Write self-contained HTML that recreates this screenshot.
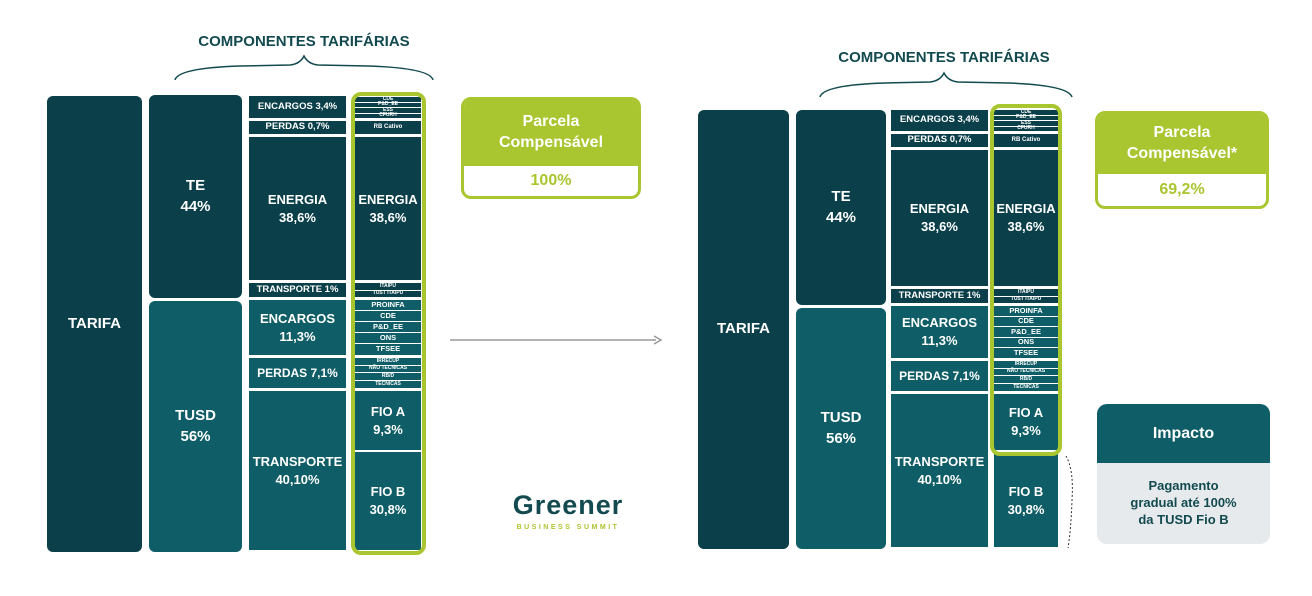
<!DOCTYPE html>
<html><head><meta charset="utf-8"><style>
body{margin:0;width:1312px;height:596px;background:#fff;position:relative;overflow:hidden;font-family:"Liberation Sans",Arial,sans-serif;font-weight:bold;color:#fff}
.b{position:absolute;display:flex;align-items:center;justify-content:center;text-align:center;box-sizing:border-box;line-height:1.35}
.d{background:#0b404a}.t{background:#0f5d66}
.r{border-radius:6px}
.s{font-size:5px;line-height:1}
.g{position:absolute;border:4px solid #a9c52f;border-radius:10px;box-sizing:border-box}
.h{position:absolute;color:#124a4f;font-size:15px;text-align:center}
</style></head><body>

<div class="h" style="left:164px;top:33px;width:280px">COMPONENTES TARIFÁRIAS</div>
<svg style="position:absolute;left:0;top:0" width="1312" height="596">
<path d="M175 80 Q178 68 240 66 L290 65 Q300 64 304 56 Q308 64 318 65 L368 66 Q430 68 433 80" fill="none" stroke="#124a4f" stroke-width="1.5"/>
<path d="M820 97 Q823 85 885 83 L930 82 Q940 81 944 73 Q948 81 958 82 L1008 83 Q1068 85 1072 97" fill="none" stroke="#124a4f" stroke-width="1.5"/>
<line x1="450" y1="340" x2="656" y2="340" stroke="#999" stroke-width="1.5"/>
<path d="M654 336 L661 340 L654 344" fill="none" stroke="#999" stroke-width="1.5"/>
<path d="M1066 456 Q1074 470 1072 500 Q1071 530 1068 548" fill="none" stroke="#333" stroke-width="1" stroke-dasharray="2,2"/>
</svg>
<div class="h" style="left:804px;top:49px;width:280px">COMPONENTES TARIFÁRIAS</div>

<!-- LEFT -->
<div class="b d r" style="left:47px;top:96px;width:95px;height:456px;font-size:15px">TARIFA</div>
<div class="b d r" style="left:149px;top:95px;width:93px;height:203px;font-size:15px">TE<br>44%</div>
<div class="b t r" style="left:149px;top:301px;width:93px;height:251px;font-size:15px">TUSD<br>56%</div>

<div class="b d" style="left:249px;top:96px;width:97px;height:22px;font-size:9.5px">ENCARGOS 3,4%</div>
<div class="b d" style="left:249px;top:121px;width:97px;height:13px;font-size:9.5px">PERDAS 0,7%</div>
<div class="b d" style="left:249px;top:137px;width:97px;height:143px;font-size:13px">ENERGIA<br>38,6%</div>
<div class="b d" style="left:249px;top:283px;width:97px;height:14px;font-size:9.5px">TRANSPORTE 1%</div>
<div class="b t" style="left:249px;top:300px;width:97px;height:55px;font-size:13px">ENCARGOS<br>11,3%</div>
<div class="b t" style="left:249px;top:358px;width:97px;height:30px;font-size:12px">PERDAS 7,1%</div>
<div class="b t" style="left:249px;top:391px;width:97px;height:159px;font-size:13px">TRANSPORTE<br>40,10%</div>

<div class="b d s" style="left:355px;top:97px;width:66px;height:4.5px">CDE</div>
<div class="b d s" style="left:355px;top:102.5px;width:66px;height:4.5px">P&amp;D_EE</div>
<div class="b d s" style="left:355px;top:108px;width:66px;height:4.5px">ESS</div>
<div class="b d s" style="left:355px;top:113.5px;width:66px;height:4.5px">CFURH</div>
<div class="b d" style="left:355px;top:121px;width:66px;height:13px;font-size:6px">RB Cativo</div>
<div class="b d" style="left:355px;top:137px;width:66px;height:143px;font-size:13px">ENERGIA<br>38,6%</div>
<div class="b d s" style="left:355px;top:283px;width:66px;height:6.5px">ITAIPU</div>
<div class="b d s" style="left:355px;top:290.5px;width:66px;height:6.5px">TUST ITAIPU</div>
<div class="b t" style="left:355px;top:300px;width:66px;height:10px;font-size:7.5px">PROINFA</div>
<div class="b t" style="left:355px;top:311px;width:66px;height:10px;font-size:7.5px">CDE</div>
<div class="b t" style="left:355px;top:322px;width:66px;height:10px;font-size:7.5px">P&amp;D_EE</div>
<div class="b t" style="left:355px;top:333px;width:66px;height:10px;font-size:7.5px">ONS</div>
<div class="b t" style="left:355px;top:344px;width:66px;height:11px;font-size:7.5px">TFSEE</div>
<div class="b t s" style="left:355px;top:358px;width:66px;height:6.5px">IRRECUP</div>
<div class="b t s" style="left:355px;top:365.5px;width:66px;height:6.5px">NÃO TECNICAS</div>
<div class="b t s" style="left:355px;top:373px;width:66px;height:6.5px">RB/D</div>
<div class="b t s" style="left:355px;top:380.5px;width:66px;height:7.5px">TÉCNICAS</div>
<div class="b t" style="left:355px;top:391px;width:66px;height:59px;font-size:13px">FIO A<br>9,3%</div>
<div class="b t" style="left:355px;top:452px;width:66px;height:98px;font-size:13px">FIO B<br>30,8%</div>
<div class="g" style="left:351px;top:92px;width:75px;height:463px"></div>

<div style="position:absolute;left:461px;top:97px;width:180px;height:102px;border:3px solid #a9c52f;border-radius:10px;box-sizing:border-box;overflow:hidden">
 <div class="b" style="left:0;top:0;width:100%;height:66px;background:#a9c52f;font-size:16px;line-height:1.3">Parcela<br>Compensável</div>
 <div class="b" style="left:0;top:66px;width:100%;height:30px;color:#a9c52f;font-size:16px">100%</div>
</div>

<div style="position:absolute;left:506px;top:492px;width:124px;text-align:center;color:#124a4f;font-size:27px;letter-spacing:1px;line-height:1">Greener</div>
<div style="position:absolute;left:506px;top:524px;width:124px;text-align:center;color:#a9c52f;font-size:7px;letter-spacing:2.5px">BUSINESS SUMMIT</div>

<!-- RIGHT -->
<div class="b d r" style="left:698px;top:110px;width:91px;height:439px;font-size:15px">TARIFA</div>
<div class="b d r" style="left:796px;top:110px;width:90px;height:195px;font-size:15px">TE<br>44%</div>
<div class="b t r" style="left:796px;top:308px;width:90px;height:241px;font-size:15px">TUSD<br>56%</div>

<div class="b d" style="left:891px;top:110px;width:97px;height:21px;font-size:9.5px">ENCARGOS 3,4%</div>
<div class="b d" style="left:891px;top:134px;width:97px;height:13px;font-size:9.5px">PERDAS 0,7%</div>
<div class="b d" style="left:891px;top:150px;width:97px;height:136px;font-size:13px">ENERGIA<br>38,6%</div>
<div class="b d" style="left:891px;top:289px;width:97px;height:14px;font-size:9.5px">TRANSPORTE 1%</div>
<div class="b t" style="left:891px;top:306px;width:97px;height:52px;font-size:13px">ENCARGOS<br>11,3%</div>
<div class="b t" style="left:891px;top:361px;width:97px;height:30px;font-size:12px">PERDAS 7,1%</div>
<div class="b t" style="left:891px;top:394px;width:97px;height:153px;font-size:13px">TRANSPORTE<br>40,10%</div>

<div class="b d s" style="left:994px;top:110px;width:64px;height:4.5px">CDE</div>
<div class="b d s" style="left:994px;top:115.5px;width:64px;height:4.5px">P&amp;D_EE</div>
<div class="b d s" style="left:994px;top:121px;width:64px;height:4.5px">ESS</div>
<div class="b d s" style="left:994px;top:126.5px;width:64px;height:4.5px">CFURH</div>
<div class="b d" style="left:994px;top:134px;width:64px;height:13px;font-size:6px">RB Cativo</div>
<div class="b d" style="left:994px;top:150px;width:64px;height:136px;font-size:13px">ENERGIA<br>38,6%</div>
<div class="b d s" style="left:994px;top:289px;width:64px;height:6.5px">ITAIPU</div>
<div class="b d s" style="left:994px;top:296.5px;width:64px;height:6.5px">TUST ITAIPU</div>
<div class="b t" style="left:994px;top:306px;width:64px;height:9.5px;font-size:7.5px">PROINFA</div>
<div class="b t" style="left:994px;top:316.5px;width:64px;height:9.5px;font-size:7.5px">CDE</div>
<div class="b t" style="left:994px;top:327px;width:64px;height:9.5px;font-size:7.5px">P&amp;D_EE</div>
<div class="b t" style="left:994px;top:337.5px;width:64px;height:9.5px;font-size:7.5px">ONS</div>
<div class="b t" style="left:994px;top:348px;width:64px;height:10px;font-size:7.5px">TFSEE</div>
<div class="b t s" style="left:994px;top:361px;width:64px;height:6.5px">IRRECUP</div>
<div class="b t s" style="left:994px;top:368.5px;width:64px;height:6.5px">NÃO TECNICAS</div>
<div class="b t s" style="left:994px;top:376px;width:64px;height:6.5px">RB/D</div>
<div class="b t s" style="left:994px;top:383.5px;width:64px;height:7.5px">TÉCNICAS</div>
<div class="b t" style="left:994px;top:394px;width:64px;height:56px;font-size:13px">FIO A<br>9,3%</div>
<div class="b t" style="left:994px;top:454px;width:64px;height:93px;font-size:13px">FIO B<br>30,8%</div>
<div class="g" style="left:990px;top:104px;width:72px;height:352px"></div>

<div style="position:absolute;left:1095px;top:111px;width:174px;height:98px;border:3px solid #a9c52f;border-radius:10px;box-sizing:border-box;overflow:hidden">
 <div class="b" style="left:0;top:0;width:100%;height:60px;background:#a9c52f;font-size:16px;line-height:1.3">Parcela<br>Compensável*</div>
 <div class="b" style="left:0;top:60px;width:100%;height:32px;color:#a9c52f;font-size:16px">69,2%</div>
</div>

<div style="position:absolute;left:1097px;top:404px;width:173px;height:140px;border-radius:10px;overflow:hidden;background:#e6eaec">
 <div class="b" style="left:0;top:0;width:100%;height:59px;background:#0f5d66;font-size:16px">Impacto</div>
 <div class="b" style="left:0;top:59px;width:100%;height:81px;color:#124a4f;font-size:13px;line-height:1.3">Pagamento<br>gradual até 100%<br>da TUSD Fio B</div>
</div>
</body></html>
